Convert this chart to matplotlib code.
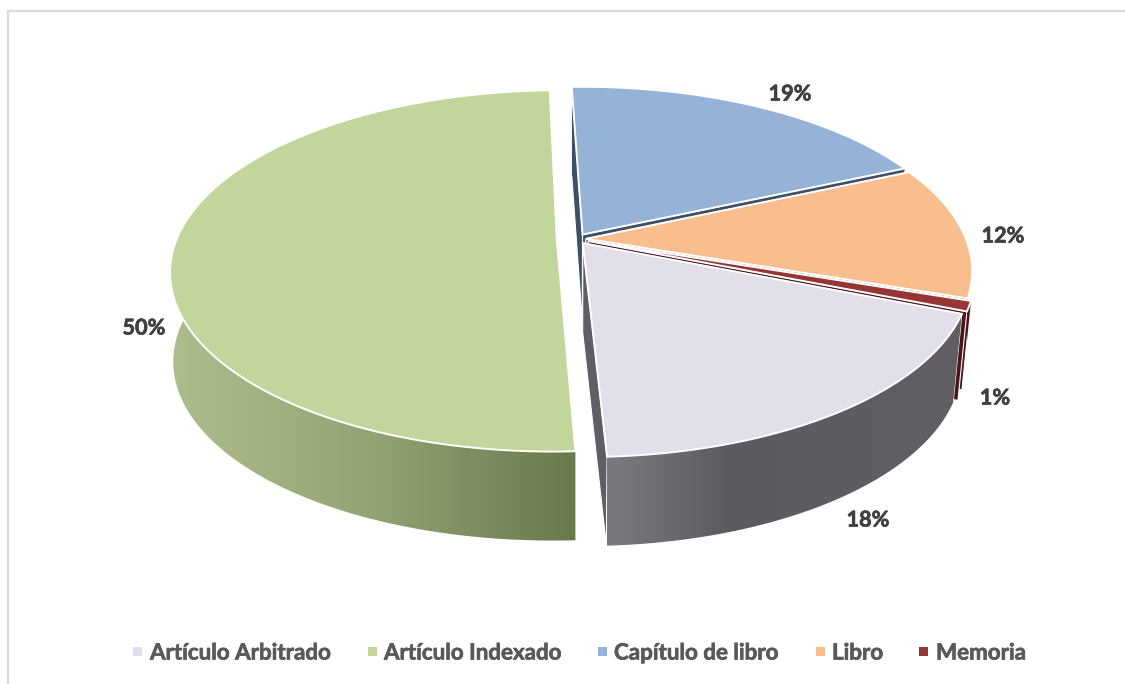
import numpy as np
import matplotlib
matplotlib.use("Agg")
import matplotlib.pyplot as plt
import matplotlib.patheffects as pe
from matplotlib.patches import Polygon, Rectangle
from matplotlib.colors import to_rgb

categories = ["Artículo Arbitrado", "Artículo Indexado", "Capítulo de libro", "Libro", "Memoria"]
values = [18.1, 50.3, 18.8, 11.9, 0.9]
explode = [0.0285, 0.052, 0.03, 0.025, 0.033]

top_colors = ["#E2DFEB", "#C2D59A", "#95B3D7", "#F9BE8E", "#963634"]
wall_stops = [
    [(0.0, "#7C7980"), (0.35, "#5C595F"), (1.0, "#615E64")],
    [(0.0, "#AEBD8C"), (0.5, "#93A373"), (1.0, "#69794D")],
    [(0.0, "#3E5068"), (1.0, "#3E5068")],
    [(0.0, "#7A5A40"), (1.0, "#7A5A40")],
    [(0.0, "#4A1518"), (1.0, "#4A1518")],
]
face_colors = ["#605D66", "#69794D", "#3E5068", "#5A3C36", "#4A1518"]
label_xy = [(868, 520), (144, 328), (790, 94), (1003, 236), (995, 398)]
legend_text_x = [150, 384, 614, 832, 936]
legend_box_x = [133, 368, 598, 816, 919]

CX, CY = 576.5, 239.0
R, S, K = 380.0, 175.0, 0.1746
DEPTH = 89.0
SHRINK_LEFT, SHRINK_RIGHT = 0.992, 0.977
START = -22.0  # angle where the first slice begins, going clockwise


def project(u, v, lower=False):
    w = 1 + K * v
    x = R * u / w
    y = -S * v / w
    if lower:
        return CX + x * np.where(x < 0, SHRINK_LEFT, SHRINK_RIGHT), CY + y + DEPTH
    return CX + x, CY + y


def pts(u, v, lower=False):
    x, y = project(np.asarray(u, float), np.asarray(v, float), lower)
    return np.column_stack([x, y])


fig = plt.figure(figsize=(11.25, 6.84), dpi=100)
ax = fig.add_axes([0, 0, 1, 1])
ax.axis("off")

ax.plot([8, 1125], [11, 11], color="#D9D9D9", lw=1.6, zorder=1)
ax.plot([8, 8], [11, 684], color="#D9D9D9", lw=1.6, zorder=1)

fracs = np.array(values) / sum(values) * 360.0
ends = START - np.cumsum(np.r_[0, fracs[:-1]])
slices = []
for i, sweep in enumerate(fracs):
    a0 = ends[i]
    a1 = a0 - sweep
    mid = np.radians((a0 + a1) / 2)
    ou, ov = explode[i] * np.cos(mid), explode[i] * np.sin(mid)
    th = np.radians(np.linspace(a0, a1, max(int(sweep * 2), 8)))
    slices.append((ou + np.cos(th), ov + np.sin(th), ou, ov))

z = 2
for i in [2, 3, 4, 0, 1]:
    u, v, ou, ov = slices[i]
    up = pts(u, v)
    lo = pts(u, v, True)
    ap = pts([ou], [ov])
    apl = pts([ou], [ov], True)
    # cut faces
    if i != 1:
        for rim_u, rim_l in [(up[0], lo[0]), (up[-1], lo[-1])]:
            ax.add_patch(Polygon([ap[0], rim_u, rim_l, apl[0]], closed=True,
                                 facecolor=face_colors[i], edgecolor="white", lw=0.8, zorder=z))
            z += 1
    # outer wall, gradient across x
    poly = Polygon(np.vstack([up, lo[::-1]]), closed=True, facecolor="none", edgecolor="none", zorder=z)
    ax.add_patch(poly)
    vis = up[:, 1] > CY
    x0 = up[vis, 0].min() if vis.any() else up[:, 0].min()
    x1 = up[vis, 0].max() if vis.any() else up[:, 0].max()
    t = np.linspace(0, 1, 256)
    st = wall_stops[i]
    rgb = np.array([np.interp(t, [s[0] for s in st], [to_rgb(s[1])[c] for s in st]) for c in range(3)]).T
    im = ax.imshow(rgb[None, :, :], extent=(x0, x1, 0, 684), aspect="auto", zorder=z, interpolation="bilinear")
    im.set_clip_path(poly)
    z += 1
    # top
    ax.add_patch(Polygon(np.vstack([ap, up]), closed=True, facecolor=top_colors[i],
                         edgecolor="white", lw=1.4, joinstyle="miter", zorder=z))
    z += 1

ax.set_xlim(0, 1125)
ax.set_ylim(684, 0)

FONT = "Lato"
for val, (lx, ly) in zip(values, label_xy):
    ax.text(lx, ly, f"{round(val)}%", ha="center", va="center", family=FONT, weight="bold",
            fontsize=15.6, color="#404040", zorder=z + 1,
            path_effects=[pe.withStroke(linewidth=0.5, foreground="#404040")])

for name, col, tx, bx in zip(categories, top_colors, legend_text_x, legend_box_x):
    ax.add_patch(Rectangle((bx, 647), 9, 9, facecolor=col, edgecolor="none", zorder=z + 1))
    ax.text(tx, 653, name, ha="left", va="center", family=FONT, weight="bold",
            fontsize=16.1, color="#595959", zorder=z + 1,
            path_effects=[pe.withStroke(linewidth=0.5, foreground="#595959")])

fig.savefig("out.png", dpi=100, facecolor="white")
